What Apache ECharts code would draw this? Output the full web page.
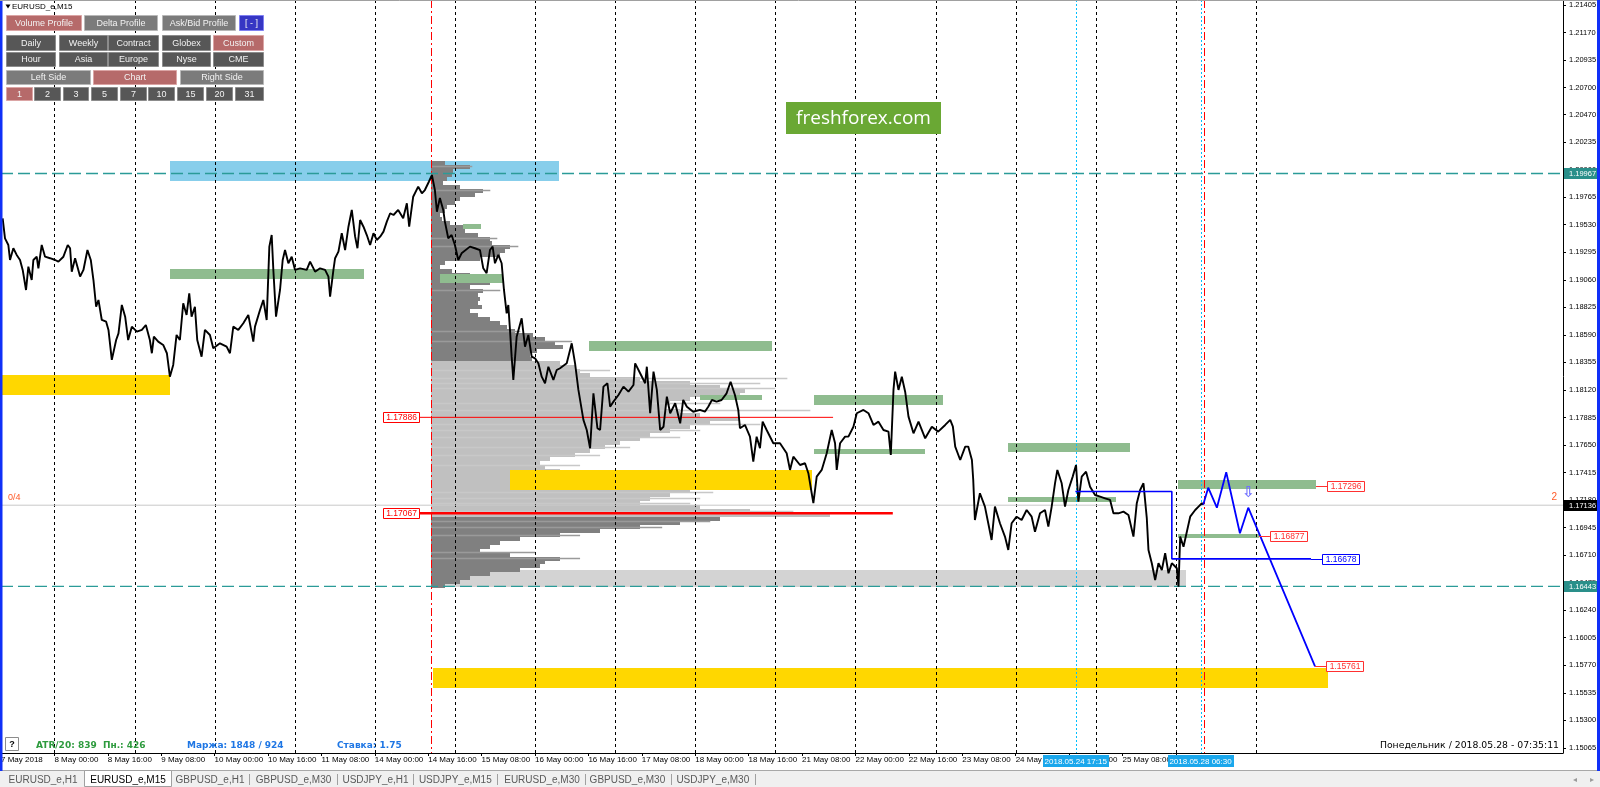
<!DOCTYPE html>
<html>
<head>
<meta charset="utf-8">
<title>EURUSD_e,M15</title>
<script src="https://cdn.jsdelivr.net/npm/echarts@6.0.0/dist/echarts.min.js"></script>
<style>
html,body{margin:0;padding:0;background:#ffffff;overflow:hidden;}
#chart{width:1600px;height:787px;}
</style>
</head>
<body>
<div id="chart"></div>
<script>
// ================= DATA =================
// x axis: trading hours counted from 8 May 2018 00:00 (weekends skipped, as in MT4)
const xLabelHours = [-16,0,16,32,48,64,80,96,112,128,144,160,176,192,208,224,240,256,272,288,304,320,336];
const xLabelTexts = ['7 May 2018','8 May 00:00','8 May 16:00','9 May 08:00','10 May 00:00','10 May 16:00','11 May 08:00','14 May 00:00','14 May 16:00','15 May 08:00','16 May 00:00','16 May 16:00','17 May 08:00','18 May 00:00','18 May 16:00','21 May 08:00','22 May 00:00','22 May 16:00','23 May 08:00','24 May 00:00','24 May 16:00','25 May 08:00','28 May 00:00'];
const yTickValues = [1.21405,1.21170,1.20935,1.20700,1.20470,1.20235,1.20000,1.19765,1.19530,1.19295,1.19060,1.18825,1.18590,1.18355,1.18120,1.17885,1.17650,1.17415,1.17180,1.16945,1.16710,1.16475,1.16240,1.16005,1.15770,1.15535,1.15300,1.15065];
const dayLineHours = [0,24,48,72,96,120,144,168,192,216,240,264,288,312,336,360];
const redVLineHours = [112.75, 344.5];
const cyanVLineHours = [306.0, 343.4];
const timeTagHours = [306.0, 343.4];
const timeTagTexts = ['2018.05.24 17:15', '2018.05.28 06:30'];

// EURUSD M15 price path (hour, price)
const priceHours = [
-15.5,-14.8,-13.8,-13.3,-12.3,-11.3,-10.3,-9.5,-8.5,-7.8,
-6.8,-6.3,-5.3,-4.8,-3.8,-2.8,-1.3,0.2,1.2,2.7,
4.0,4.7,5.2,6.2,7.7,8.7,9.9,10.9,11.7,12.5,
13.2,14.2,15.5,16.2,17.2,18.5,19.2,20.2,21.2,22.1,
23.2,24.7,26.2,27.4,28.6,29.2,29.8,31.1,32.6,33.7,
34.6,35.6,36.6,37.6,38.6,39.6,40.4,41.1,42.1,42.8,
44.1,45.1,46.6,47.6,49.6,51.6,52.6,53.6,55.1,56.6,
58.1,59.6,60.1,61.6,62.6,63.6,64.4,65.1,65.6,66.4,
67.6,68.4,69.1,70.1,71.1,72.1,73.6,75.6,76.6,78.1,
79.6,81.1,82.1,82.6,83.6,84.1,85.1,86.1,87.1,88.1,
89.1,90.1,90.8,91.6,92.6,93.6,94.6,95.6,96.6,97.6,
98.6,99.6,100.6,101.6,103.0,104.5,105.6,106.3,107.5,109.0,
110.1,111.0,112.2,113.1,114.0,114.6,115.5,116.5,117.0,118.0,
119.0,120.0,121.0,122.0,124.5,126.0,127.5,128.5,129.5,130.5,
131.3,132.0,133.0,134.0,134.7,135.5,136.0,136.5,137.0,137.5,
138.5,140.0,141.0,142.0,143.0,144.0,145.0,146.0,147.0,148.0,
149.5,150.5,151.5,153.5,155.0,156.0,157.0,158.5,159.5,160.5,
161.5,162.7,163.5,164.5,165.7,166.5,167.5,169.0,170.5,172.0,
173.5,174.0,175.5,177.0,177.5,178.5,179.5,180.5,181.5,182.5,
183.5,184.5,186.0,187.5,188.4,189.5,191.4,193.4,194.9,195.9,
197.0,198.4,199.9,201.4,202.6,203.9,204.9,205.4,206.9,208.4,
209.4,210.4,211.4,212.2,213.4,215.4,217.4,219.4,220.4,221.4,
223.4,224.9,225.9,226.9,227.4,228.4,229.9,231.4,232.9,233.9,
234.4,235.4,236.9,237.9,239.4,240.4,242.4,243.9,245.4,246.9,
248.4,249.9,250.6,251.4,251.9,252.9,253.9,254.9,255.9,257.4,
258.9,260.9,262.9,264.8,266.9,268.4,269.2,269.9,271.4,272.9,
273.8,274.9,275.3,275.8,277.3,278.8,279.8,280.8,281.8,283.3,
284.8,285.8,286.8,288.3,289.8,291.3,292.8,293.8,295.3,296.8,
297.8,298.8,299.8,300.5,301.8,302.8,303.8,305.1,306.1,306.8,
307.8,309.1,310.3,311.8,313.3,314.8,316.3,317.3,318.8,320.3,
321.8,323.3,324.3,325.3,326.3,327.3,327.8,328.8,329.8,330.8,
331.8,332.8,333.8,334.8,336.3,336.8,337.3,338.3,339.3,340.3,
341.8,342.8,343.8,344.2];
const priceValues = [
1.19585,1.19414,1.19357,1.19229,1.19329,1.19272,1.19229,1.19144,1.18973,1.19172,
1.19058,1.19229,1.19257,1.19158,1.19357,1.19257,1.19244,1.19229,1.19215,1.19257,
1.19357,1.19329,1.19129,1.19244,1.19087,1.19144,1.19314,1.19229,1.19058,1.18830,
1.18888,1.18717,1.18702,1.18632,1.18376,1.18546,1.18603,1.18845,1.18745,1.18546,
1.18660,1.18617,1.18632,1.18674,1.18546,1.18433,1.18574,1.18532,1.18504,1.18433,
1.18233,1.18333,1.18589,1.18546,1.18860,1.18760,1.18945,1.18745,1.18830,1.18546,
1.18404,1.18632,1.18589,1.18475,1.18518,1.18489,1.18433,1.18660,1.18632,1.18689,
1.18760,1.18532,1.18660,1.18802,1.18888,1.18717,1.19343,1.19442,1.19144,1.18745,
1.18973,1.19229,1.19314,1.19201,1.19257,1.19144,1.19158,1.19144,1.19215,1.19129,
1.19158,1.19144,1.19087,1.18916,1.19144,1.19244,1.19300,1.19457,1.19314,1.19513,
1.19656,1.19428,1.19329,1.19570,1.19513,1.19442,1.19357,1.19457,1.19400,1.19428,
1.19471,1.19556,1.19628,1.19613,1.19656,1.19585,1.19713,1.19513,1.19769,1.19855,
1.19798,1.19826,1.19897,1.19954,1.19826,1.19641,1.19758,1.19656,1.19556,1.19414,
1.19442,1.19357,1.19229,1.19286,1.19343,1.19329,1.19314,1.19158,1.19116,1.19314,
1.19343,1.19201,1.19272,1.19201,1.18973,1.18774,1.18845,1.18632,1.18404,1.18205,
1.18574,1.18731,1.18489,1.18589,1.18404,1.18390,1.18347,1.18233,1.18177,1.18318,
1.18205,1.18290,1.18305,1.18347,1.18518,1.18347,1.18120,1.17864,1.17778,1.17622,
1.18091,1.17793,1.17778,1.18148,1.18177,1.17977,1.18020,1.18077,1.18148,1.18105,
1.18162,1.18347,1.18262,1.18177,1.18318,1.17921,1.18276,1.18120,1.17778,1.17806,
1.18062,1.17921,1.18006,1.17835,1.18034,1.17977,1.17934,1.17949,1.17934,1.17977,
1.18034,1.18020,1.18034,1.18091,1.18190,1.18077,1.17949,1.17793,1.17821,1.17721,
1.17508,1.17721,1.17622,1.17849,1.17778,1.17665,1.17665,1.17579,1.17437,1.17550,
1.17479,1.17494,1.17409,1.17238,1.17153,1.17380,1.17437,1.17579,1.17778,1.17665,
1.17437,1.17665,1.17721,1.17721,1.17806,1.17921,1.17949,1.17921,1.17821,1.17849,
1.17778,1.17764,1.17565,1.18120,1.18276,1.18120,1.18233,1.18105,1.17892,1.17750,
1.17849,1.17707,1.17806,1.17764,1.17821,1.17864,1.17806,1.17636,1.17522,1.17636,
1.17636,1.17522,1.17351,1.17010,1.17238,1.17124,1.16982,1.16839,1.17124,1.16982,
1.16868,1.16754,1.16982,1.17038,1.17010,1.17095,1.17038,1.16910,1.17067,1.17095,
1.16953,1.17124,1.17323,1.17437,1.17323,1.17124,1.17266,1.17380,1.17479,1.17166,
1.17380,1.17422,1.17294,1.17223,1.17209,1.17195,1.17181,1.17067,1.17067,1.17081,
1.17053,1.16868,1.17153,1.17266,1.17323,1.17025,1.16754,1.16641,1.16498,1.16641,
1.16583,1.16726,1.16555,1.16641,1.16598,1.16441,1.16868,1.16782,1.16910,1.17038,
1.17095,1.17124,1.17153,1.17140];

// Volume profile (starts 14 May ~16:45), bins from the top price downwards
const profileStartHour = 112.9;
const profileTopPrice = 1.20074;
const profileBinSize = 0.000341;
const valueAreaHigh = 1.18384;
const valueAreaLow = 1.17036;
const profileLengths = [
4.2,11.7,6.6,6.3,4.8,3.6,8.7,15.6,13.2,8.7,
7.2,4.8,4.2,2.7,3.3,5.7,11.7,10.2,14.1,17.7,
18.3,23.7,22.2,20.7,14.7,4.2,2.7,6.3,11.7,21.6,
17.7,11.7,15.6,14.1,14.7,14.1,15.3,11.7,14.1,17.7,
20.7,22.8,25.2,30.6,34.2,37.2,39.6,31.8,29.7,30.3,
38.7,43.1,44.6,47.6,62.6,77.6,86.6,94.1,92.6,77.6,
71.6,70.1,74.6,80.6,92.6,83.6,77.6,71.6,65.6,62.6,
56.6,52.1,47.6,43.1,35.7,32.7,34.2,38.7,50.6,62.6,
74.6,80.6,77.6,71.6,65.6,62.6,80.6,95.6,119.6,86.6,
74.6,62.6,50.6,38.7,26.7,20.7,17.7,14.7,23.7,38.7,
34.2,32.7,26.7,17.7,11.7,8.7,4.2];
const profileExtPrices = [1.20031,1.19826,1.19417,1.19349,1.18973,1.18623,1.18538,1.18290,1.18222,1.18179,1.18137,1.18009,1.17949,1.17829,1.17778,1.17718,1.17633,1.17565,1.17479,1.17249,1.17198,1.17155,1.17087,1.17002,1.16950,1.16882,1.16737,1.16686];
const profileExtLengths = [12.3,17.7,19.8,26.1,20.7,26.7,42.2,53.6,106.7,98.6,103.1,86.6,113.6,98.6,80.6,74.6,59.6,50.6,44.6,84.5,80.6,77.6,108.5,83.6,69.2,44.6,31.2,44.6];

// Zones: [startHour, endHour, highPrice, lowPrice]
const blueZones = [[34.6, 151.2, 1.20074, 1.19903]];
const grayZones = [[112.9, 339.1, 1.16583, 1.16438]];
const yellowZones = [[-16, 34.6, 1.18248, 1.18077],[136.5, 227.0, 1.17437, 1.17266],[113.4, 381.5, 1.15744, 1.15578]];
const greenZones = [
[34.6, 92.8, 1.19152, 1.19067],[160.3, 215.1, 1.18540, 1.18455],[122.4, 127.8, 1.19536, 1.19491],
[115.5, 134.3, 1.19110, 1.19030],[193.4, 212.1, 1.18077, 1.18038],[227.6, 266.2, 1.18077, 1.17994],
[227.6, 260.9, 1.17616, 1.17576],[285.8, 322.3, 1.17665, 1.17590],[285.8, 318.0, 1.17204, 1.17166],
[336.6, 378.0, 1.17351, 1.17275],[336.6, 360.9, 1.16891, 1.16854]];

// Horizontal levels
const tealLevels = [1.19967, 1.16443];
const bidPrice = 1.17136;
const redLinePrices = [1.17886, 1.17067];
const redLineStart = [109.2, 109.2];
const redLineEnd = [233.3, 251.2];
// right-hand price tags (anchor hour, price)
const rightTagHours = [378.0, 360.9, 376.5, 377.7];
const rightTagPrices = [1.17296, 1.16877, 1.16678, 1.15761];
// blue box line and forecast path
const blueBoxHours = [305.9, 334.8, 334.8, 376.5];
const blueBoxPrices = [1.17253, 1.17253, 1.16678, 1.16678];
const forecastHours = [344.2, 345.7, 348.3, 351.1, 355.2, 357.7, 377.7];
const forecastPrices = [1.17140, 1.17286, 1.17115, 1.17417, 1.16897, 1.17115, 1.15761];
const arrowPoint = [357.8, 1.17240];

// ================= CHART =================
const X_MIN = -16, X_MAX = 452;
const Y_MIN = 1.15021, Y_MAX = 1.21448;
const FONT = '"Liberation Sans", Arial, sans-serif';

const chart = echarts.init(document.getElementById('chart'), null, {renderer: 'canvas'});

function rectFrom(api, h1, h2, p1, p2) {
  const a = api.coord([h1, p1]), b = api.coord([h2, p2]);
  const x = Math.round(a[0]), y = Math.round(a[1]);
  return {x: x, y: y, width: Math.max(1, Math.round(b[0]) - x), height: Math.max(1, Math.round(b[1]) - y)};
}

function zoneSeries(name, zones, fill, z) {
  return {
    type: 'custom', name: name, z: z, silent: true, clip: true,
    data: zones.map(d => [d[0], d[2]]),
    renderItem: (params, api) => {
      const d = zones[params.dataIndex];
      return {type: 'rect', shape: rectFrom(api, d[0], d[1], d[2], d[3]), style: {fill: fill}};
    }
  };
}

function vLineSeries(name, hours, color, dash, z) {
  return {
    type: 'custom', name: name, z: z, silent: true, clip: true,
    data: hours.map(h => [h, Y_MIN]),
    renderItem: (params, api) => {
      const cs = params.coordSys;
      const x = Math.round(api.coord([api.value(0), Y_MIN])[0]) + 0.5;
      return {type: 'line', shape: {x1: x, y1: cs.y, x2: x, y2: cs.y + cs.height},
        style: {stroke: color, lineWidth: 1, lineDash: dash}};
    }
  };
}

function lineSeries(name, hs, ps, color, width, z, type) {
  return {
    type: 'line', name: name, z: z, silent: true, symbol: 'none', showSymbol: false,
    animation: false, emphasis: {disabled: true},
    data: hs.map((h, i) => [h, ps[i]]),
    lineStyle: {color: color, width: width, type: type || 'solid'}
  };
}

function tagBox(x0, yMid, text, color, w) {
  const h = 10;
  const yy = Math.round(yMid - h / 2) + 0.5;
  const xx = Math.round(x0) + 0.5;
  return [
    {type: 'rect', shape: {x: xx, y: yy, width: w, height: h}, style: {fill: '#ffffff', stroke: color, lineWidth: 1}},
    {type: 'text', style: {legacy: false, text: text, x: xx + w / 2, y: yy + h / 2 + 0.5, align: 'center', verticalAlign: 'middle', fill: color, font: '8.5px ' + FONT}}
  ];
}

const series = [];

// background zones below profile
series.push(zoneSeries('blueZone', blueZones, '#87ceeb', 1));
series.push(zoneSeries('grayZone', grayZones, '#d3d3d3', 1));

// volume profile
series.push({
  type: 'custom', name: 'profile', z: 2, silent: true, clip: true,
  data: profileLengths.map((L, i) => [profileStartHour + L, profileTopPrice - i * profileBinSize]),
  renderItem: (params, api) => {
    const i = params.dataIndex;
    const pTop = profileTopPrice - i * profileBinSize;
    const pBot = pTop - profileBinSize;
    const mid = (pTop + pBot) / 2;
    const light = mid < valueAreaHigh && mid > valueAreaLow;
    return {type: 'rect', shape: rectFrom(api, profileStartHour, profileStartHour + profileLengths[i], pTop, pBot),
      style: {fill: light ? '#c0c0c0' : '#808080'}};
  }
});
series.push({
  type: 'custom', name: 'profileExt', z: 2, silent: true, clip: true,
  data: profileExtPrices.map((p, i) => [profileStartHour + profileExtLengths[i], p]),
  renderItem: (params, api) => {
    const i = params.dataIndex;
    const p = profileExtPrices[i];
    const a = api.coord([profileStartHour, p]), b = api.coord([profileStartHour + profileExtLengths[i], p]);
    const light = p < valueAreaHigh && p > valueAreaLow;
    const y = Math.round(a[1]) + 0.5;
    return {type: 'line', shape: {x1: a[0], y1: y, x2: b[0], y2: y},
      style: {stroke: light ? '#c8c8c8' : '#9a9a9a', lineWidth: 1.5}};
  }
});

// zones above profile
series.push(zoneSeries('yellowZones', yellowZones, '#ffd700', 3));
series.push(zoneSeries('greenZones', greenZones, '#8fbc8f', 3));

// vertical lines
series.push(vLineSeries('dayGrid', dayLineHours, '#000000', [3, 3], 4));
series.push(vLineSeries('redV', redVLineHours, '#ff0000', [8, 3, 2, 3], 4));
series.push(vLineSeries('cyanV', cyanVLineHours, '#00bfff', [2, 2], 4));

// horizontal levels
tealLevels.forEach((p, i) => series.push(lineSeries('teal' + i, [X_MIN, X_MAX], [p, p], '#2b9b98', 1.3, 5, [12, 5])));
series.push(lineSeries('bid', [X_MIN, X_MAX], [bidPrice, bidPrice], '#c8c8c8', 1, 5));
series.push(lineSeries('red0', [redLineStart[0], redLineEnd[0]], [redLinePrices[0], redLinePrices[0]], '#ff0000', 1, 5));
series.push(lineSeries('red1', [redLineStart[1], redLineEnd[1]], [redLinePrices[1], redLinePrices[1]], '#ff0000', 2.6, 5));

// price
series.push(lineSeries('EURUSD', priceHours, priceValues, '#000000', 1.9, 6));

// blue drawings
series.push(lineSeries('blueBox', blueBoxHours, blueBoxPrices, '#0000ff', 1.6, 7));
series.push(lineSeries('forecast', forecastHours, forecastPrices, '#0000ff', 1.8, 7));

// arrow + text indicators
series.push({
  type: 'custom', name: 'marks', z: 8, silent: true, clip: false,
  data: [[arrowPoint[0], arrowPoint[1]]],
  renderItem: (params, api) => {
    const cs = params.coordSys;
    const a = api.coord(arrowPoint);
    const yb = api.coord([0, bidPrice])[1];
    return {type: 'group', children: [
      {type: 'text', style: {legacy: false, text: '⇩', x: a[0], y: a[1], align: 'center', verticalAlign: 'middle', fill: '#6e6eff', font: 'bold 15px "DejaVu Sans"'}},
      {type: 'text', style: {legacy: false, text: '0/4', x: cs.x + 7, y: yb - 8, align: 'left', verticalAlign: 'middle', fill: '#ff5a28', font: '9px ' + FONT}},
      {type: 'text', style: {legacy: false, text: '2', x: cs.x + cs.width - 6, y: yb - 8, align: 'right', verticalAlign: 'middle', fill: '#ff5a28', font: '10px ' + FONT}}
    ]};
  }
});

// left price tags (boxes end where the red lines start)
series.push({
  type: 'custom', name: 'leftTags', z: 8, silent: true, clip: false,
  data: redLinePrices.map((p, i) => [redLineStart[i], p]),
  renderItem: (params, api) => {
    const i = params.dataIndex;
    const a = api.coord([redLineStart[i], redLinePrices[i]]);
    return {type: 'group', children: tagBox(a[0] - 36, a[1], redLinePrices[i].toFixed(5), '#ff0000', 36)};
  }
});

// right price tags
series.push({
  type: 'custom', name: 'rightTags', z: 8, silent: true, clip: false,
  data: rightTagPrices.map((p, i) => [rightTagHours[i], p]),
  renderItem: (params, api) => {
    const i = params.dataIndex;
    const color = i === 2 ? '#0000ff' : '#ff3030';
    const a = api.coord([rightTagHours[i], rightTagPrices[i]]);
    const y = Math.round(a[1]) + 0.5;
    const children = [{type: 'line', shape: {x1: a[0], y1: y, x2: a[0] + 11, y2: y}, style: {stroke: color, lineWidth: 1}}];
    return {type: 'group', children: children.concat(tagBox(a[0] + 11, a[1], rightTagPrices[i].toFixed(5), color, 37))};
  }
});

// price-axis highlight tags
const yTagPrices = [tealLevels[0], bidPrice, tealLevels[1]];
series.push({
  type: 'custom', name: 'yTags', z: 9, silent: true, clip: false,
  data: yTagPrices.map(p => [X_MAX, p]),
  renderItem: (params, api) => {
    const i = params.dataIndex;
    const cs = params.coordSys;
    const bg = i === 1 ? '#000000' : '#2a8f8a';
    const y = api.coord([X_MAX, yTagPrices[i]])[1];
    const x = cs.x + cs.width + 1;
    return {type: 'group', children: [
      {type: 'rect', shape: {x: x, y: Math.round(y - 5.5), width: 33, height: 11}, style: {fill: bg}},
      {type: 'text', style: {legacy: false, text: yTagPrices[i].toFixed(5), x: x + 5, y: y + 0.5, align: 'left', verticalAlign: 'middle', fill: '#ffffff', font: '7.5px ' + FONT}}
    ]};
  }
});

// time-axis highlight tags
series.push({
  type: 'custom', name: 'xTags', z: 9, silent: true, clip: false,
  data: timeTagHours.map(h => [h, Y_MIN]),
  renderItem: (params, api) => {
    const i = params.dataIndex;
    const cs = params.coordSys;
    const x = api.coord([timeTagHours[i], Y_MIN])[0];
    const w = 66;
    const y0 = cs.y + cs.height + 2;
    return {type: 'group', children: [
      {type: 'rect', shape: {x: Math.round(x - w / 2), y: y0, width: w, height: 12}, style: {fill: '#1aa7ec'}},
      {type: 'text', style: {legacy: false, text: timeTagTexts[i], x: x, y: y0 + 6.5, align: 'center', verticalAlign: 'middle', fill: '#ffffff', font: '8px ' + FONT}}
    ]};
  }
});

// ================= UI graphics (terminal chrome) =================
const ui = [];
const BTN = {
  r: {fill: '#b66a6a', stroke: '#dba5a5'},
  g: {fill: '#7b7b7b', stroke: '#b8b8b8'},
  d: {fill: '#575757', stroke: '#8c8c8c'},
  b: {fill: '#3636c4', stroke: '#8080f2'}
};
const buttons = [
  [6, 15, 75, 15, 'Volume Profile', 'r'], [84, 15, 73, 15, 'Delta Profile', 'g'], [162, 15, 73, 15, 'Ask/Bid Profile', 'g'], [239, 15, 24, 15, '[ - ]', 'b'],
  [6, 35, 49, 15, 'Daily', 'd'], [59, 35, 48, 15, 'Weekly', 'd'], [108, 35, 50, 15, 'Contract', 'd'], [162, 35, 48, 15, 'Globex', 'd'], [213, 35, 50, 15, 'Custom', 'r'],
  [6, 52, 49, 14, 'Hour', 'd'], [59, 52, 48, 14, 'Asia', 'd'], [108, 52, 50, 14, 'Europe', 'd'], [162, 52, 48, 14, 'Nyse', 'd'], [213, 52, 50, 14, 'CME', 'd'],
  [6, 70, 84, 14, 'Left Side', 'g'], [93, 70, 83, 14, 'Chart', 'r'], [180, 70, 83, 14, 'Right Side', 'g'],
  [6, 87, 26, 13, '1', 'r'], [34, 87, 26, 13, '2', 'd'], [63, 87, 25, 13, '3', 'd'], [91, 87, 26, 13, '5', 'd'], [120, 87, 26, 13, '7', 'd'],
  [148, 87, 26, 13, '10', 'd'], [177, 87, 26, 13, '15', 'd'], [206, 87, 26, 13, '20', 'd'], [235, 87, 28, 13, '31', 'd']
];
buttons.forEach(b => {
  const st = BTN[b[5]];
  ui.push({type: 'rect', z: 100, silent: true, shape: {x: b[0] + 0.5, y: b[1] + 0.5, width: b[2], height: b[3]}, style: {fill: st.fill, stroke: st.stroke, lineWidth: 1}});
  ui.push({type: 'text', z: 101, silent: true, style: {legacy: false, text: b[4], x: b[0] + b[2] / 2 + 0.5, y: b[1] + b[3] / 2 + 1, align: 'center', verticalAlign: 'middle', fill: '#f2f2f2', font: '9px ' + FONT}});
});
// title
ui.push({type: 'polygon', z: 100, silent: true, shape: {points: [[5.5, 4.5], [10.5, 4.5], [8, 8.5]]}, style: {fill: '#000'}});
ui.push({type: 'text', z: 100, silent: true, style: {legacy: false, text: 'EURUSD_e,M15', x: 12, y: 7, align: 'left', verticalAlign: 'middle', fill: '#000', font: '8px ' + FONT}});
// freshforex logo
ui.push({type: 'rect', z: 100, silent: true, shape: {x: 786, y: 102, width: 155, height: 32}, style: {fill: '#6aa834'}});
ui.push({type: 'text', z: 101, silent: true, style: {legacy: false, text: 'freshforex.com', x: 863.5, y: 118.5, align: 'center', verticalAlign: 'middle', fill: '#ffffff', font: '19px "Open Sans", sans-serif'}});
// bottom info line
ui.push({type: 'rect', z: 100, silent: true, shape: {x: 5.5, y: 737.5, width: 13, height: 13}, style: {fill: '#ffffff', stroke: '#8c8c8c', lineWidth: 1}});
ui.push({type: 'text', z: 101, silent: true, style: {legacy: false, text: '?', x: 12, y: 744.5, align: 'center', verticalAlign: 'middle', fill: '#000', font: 'bold 9px ' + FONT}});
ui.push({type: 'text', z: 100, silent: true, style: {legacy: false, text: 'ATR/20: 839  Пн.: 426', x: 36, y: 745.5, align: 'left', verticalAlign: 'middle', fill: '#2e9b3e', font: 'bold 9px "DejaVu Sans"'}});
ui.push({type: 'text', z: 100, silent: true, style: {legacy: false, text: 'Маржа: 1848 / 924', x: 187, y: 745.5, align: 'left', verticalAlign: 'middle', fill: '#1e76e4', font: 'bold 9px "DejaVu Sans"'}});
ui.push({type: 'text', z: 100, silent: true, style: {legacy: false, text: 'Ставка: 1.75', x: 337, y: 745.5, align: 'left', verticalAlign: 'middle', fill: '#1e76e4', font: 'bold 9px "DejaVu Sans"'}});
ui.push({type: 'text', z: 100, silent: true, style: {legacy: false, text: 'Понедельник / 2018.05.28 - 07:35:11', x: 1559, y: 745.5, align: 'right', verticalAlign: 'middle', fill: '#000', font: '9.3px "DejaVu Sans"'}});
// tab bar
ui.push({type: 'rect', z: 100, silent: true, shape: {x: 0, y: 771, width: 1600, height: 16}, style: {fill: '#f0f0f0'}});
ui.push({type: 'line', z: 100, silent: true, shape: {x1: 0, y1: 770.5, x2: 1600, y2: 770.5}, style: {stroke: '#a8a8a8', lineWidth: 1}});
ui.push({type: 'rect', z: 101, silent: true, shape: {x: 84.5, y: 770.5, width: 87, height: 16}, style: {fill: '#ffffff', stroke: '#a0a0a0', lineWidth: 1}});
const tabs = [[43, 'EURUSD_e,H1'], [128, 'EURUSD_e,M15'], [210, 'GBPUSD_e,H1'], [293.5, 'GBPUSD_e,M30'], [375.5, 'USDJPY_e,H1'], [455.3, 'USDJPY_e,M15'], [542, 'EURUSD_e,M30'], [627.4, 'GBPUSD_e,M30'], [712.8, 'USDJPY_e,M30']];
tabs.forEach((t, i) => {
  ui.push({type: 'text', z: 102, silent: true, style: {legacy: false, text: t[1], x: t[0], y: 780, align: 'center', verticalAlign: 'middle', fill: i === 1 ? '#000' : '#5a5a5a', font: '10px ' + FONT}});
});
[249.5, 337.5, 413.5, 497.5, 585.5, 671.5, 755.5].forEach(x => {
  ui.push({type: 'line', z: 101, silent: true, shape: {x1: x, y1: 774, x2: x, y2: 785}, style: {stroke: '#a0a0a0', lineWidth: 1}});
});
ui.push({type: 'text', z: 101, silent: true, style: {legacy: false, text: '◂', x: 1575, y: 780, align: 'center', verticalAlign: 'middle', fill: '#9a9a9a', font: '8px "DejaVu Sans"'}});
ui.push({type: 'text', z: 101, silent: true, style: {legacy: false, text: '▸', x: 1592, y: 780, align: 'center', verticalAlign: 'middle', fill: '#9a9a9a', font: '8px "DejaVu Sans"'}});
// window frame
ui.push({type: 'rect', z: 110, silent: true, shape: {x: 0, y: 0, width: 2.5, height: 771}, style: {fill: '#1030f8'}});
ui.push({type: 'rect', z: 110, silent: true, shape: {x: 1597, y: 0, width: 3, height: 771}, style: {fill: '#1030f8'}});
ui.push({type: 'line', z: 110, silent: true, shape: {x1: 0, y1: 0.5, x2: 1597, y2: 0.5}, style: {stroke: '#a0a0a0', lineWidth: 1}});

const option = {
  animation: false,
  backgroundColor: '#ffffff',
  grid: {left: 1, top: 0, right: 37, bottom: 34, containLabel: false, outerBoundsMode: 'none'},
  xAxis: {
    type: 'value', min: X_MIN, max: X_MAX,
    axisLine: {show: true, onZero: false, lineStyle: {color: '#000', width: 1}},
    axisTick: {show: true, customValues: xLabelHours, length: 3, lineStyle: {color: '#000'}},
    axisLabel: {
      show: true, customValues: xLabelHours, align: 'left', margin: 3,
      color: '#000', fontSize: 8, fontFamily: FONT,
      formatter: v => { const i = xLabelHours.indexOf(Math.round(v)); return i >= 0 ? xLabelTexts[i] : ''; }
    },
    splitLine: {show: false}
  },
  yAxis: {
    type: 'value', position: 'right', min: Y_MIN, max: Y_MAX, scale: true,
    axisLine: {show: true, onZero: false, lineStyle: {color: '#000', width: 1}},
    axisTick: {show: true, customValues: yTickValues, length: 3, lineStyle: {color: '#000'}},
    axisLabel: {
      show: true, customValues: yTickValues, margin: 6,
      color: '#000', fontSize: 7.5, fontFamily: FONT,
      formatter: v => v.toFixed(5)
    },
    splitLine: {show: false}
  },
  series: series,
  graphic: {elements: ui}
};
chart.setOption(option);
</script>
</body>
</html>
